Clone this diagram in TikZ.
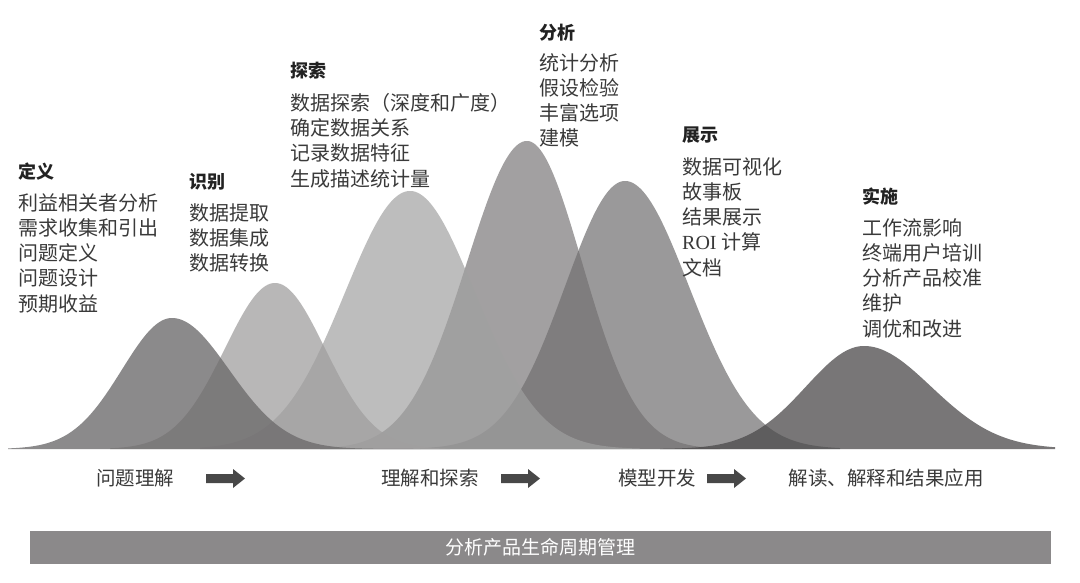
\documentclass[tikz,border=0pt]{standalone}
\usepackage{fontspec}
\setmainfont{Noto Sans CJK SC}
\newfontfamily\latinserif{Liberation Serif}
\definecolor{m1}{RGB}{109,107,108}
\definecolor{m2}{RGB}{160,159,159}
\definecolor{m3}{RGB}{160,160,160}
\definecolor{m4}{RGB}{162,160,161}
\definecolor{m5}{RGB}{114,112,113}
\definecolor{m6}{RGB}{75,73,74}
\definecolor{bodygray}{RGB}{58,58,58}
\definecolor{titlegray}{RGB}{34,34,34}
\definecolor{arrowgray}{RGB}{72,72,72}
\definecolor{bargray}{RGB}{139,137,138}
\newcommand\drawpeak[8]{%
  \fill[#1] (#6,449) -- plot[domain=#6:#2,samples=90] (\x,{449-#3*gs(\x,#2,#4)})
    -- plot[domain=#2:#7,samples=90] (\x,{449-#3*gs(\x,#2,#5)}) -- (#7,449) -- cycle;}
\newcommand\blockarrow[1]{%
  \fill[arrowgray] (#1,474) -- (#1+27,474) -- (#1+27,469) -- (#1+39,478.5)
    -- (#1+27,488) -- (#1+27,483) -- (#1,483) -- cycle;}
\begin{document}
\begin{tikzpicture}[x=1pt,y=-1pt,
  declare function={gs(\u,\c,\s)=exp(-0.5*((\u-\c)/\s)^2);},
  ttl/.style={font=\fontsize{18}{20}\selectfont\bfseries, text=titlegray, anchor=west, inner sep=0pt},
  body/.style={font=\fontsize{20}{25.3}\selectfont, text=bodygray, align=left, anchor=north west, inner sep=0pt},
  stage/.style={font=\fontsize{19.5}{22}\selectfont, text=bodygray, inner sep=0pt},
  bar/.style={fill=bargray, minimum width=1021pt, minimum height=33pt, inner sep=0pt, text=white, font=\fontsize{19}{22}\selectfont}]
\useasboundingbox (0,0) rectangle (1080,582);
\fill[white] (0,0) rectangle (1080,582);
% mountains, tallest at the back
\drawpeak{m4}{527}{308}{60}{55}{320}{720}{}
\drawpeak{m5,fill opacity=0.71}{625}{268}{60}{64}{420}{840}{}
\drawpeak{m3,fill opacity=0.69}{410}{258}{65}{65}{200}{640}{}
\drawpeak{m2,fill opacity=0.74}{275}{166}{50}{50}{110}{450}{}
\drawpeak{m1,fill opacity=0.79}{172}{131}{50}{57}{8}{420}{}
\drawpeak{m6,fill opacity=0.75}{864}{103}{58}{67}{660}{1055}{}
% titles and lists
\node[ttl] (t1) at (18,172) {定义};
\node[body] (b1) at (18,193) {利益相关者分析\\需求收集和引出\\问题定义\\问题设计\\预期收益};
\node[ttl] (t2) at (189,182) {识别};
\node[body] (b2) at (189,203) {数据提取\\数据集成\\数据转换};
\node[ttl] (t3) at (290,71) {探索};
\node[body] (b3) at (290,93) {数据探索（深度和广度）\\确定数据关系\\记录数据特征\\生成描述统计量};
\node[ttl] (t4) at (539,33) {分析};
\node[body] (b4) at (539,53) {统计分析\\假设检验\\丰富选项\\建模};
\node[ttl] (t5) at (682,135) {展示};
\node[body] (b5) at (682,157) {数据可视化\\故事板\\结果展示\\{\latinserif ROI} 计算\\文档};
\node[ttl] (t6) at (862,197) {实施};
\node[body] (b6) at (862,218) {工作流影响\\终端用户培训\\分析产品校准\\维护\\调优和改进};
% stages
\node[stage] (s1) at (135,478) {问题理解};
\node[stage] (s2) at (430,478) {理解和探索};
\node[stage] (s3) at (657,478) {模型开发};
\node[stage] (s4) at (886,478) {解读、解释和结果应用};
\blockarrow{206}
\blockarrow{501}
\blockarrow{707}
% lifecycle bar
\node[bar] (life) at (540.5,547.5) {分析产品生命周期管理};
\end{tikzpicture}
\end{document}
